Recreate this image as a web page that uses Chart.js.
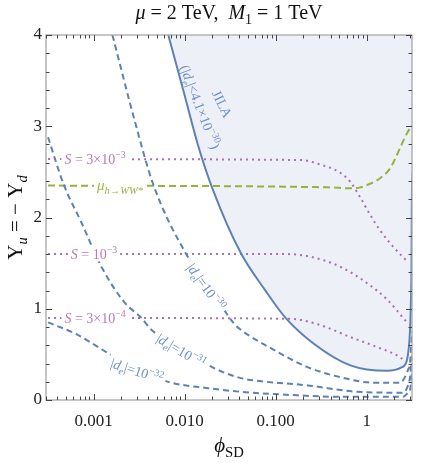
<!DOCTYPE html>
<html>
<head>
<meta charset="utf-8">
<script src="https://cdn.jsdelivr.net/npm/chart.js@4.4.1/dist/chart.umd.min.js"></script>
<style>
  html, body { margin: 0; padding: 0; background: #fff; }
  #wrap { width: 436px; height: 465px; }
</style>
</head>
<body>
<div id="wrap"><canvas id="c" width="436" height="465"></canvas></div>
<script>
// axis ticks
const xTickValues = [0.001, 0.01, 0.1, 1];
const xTickLabels = ['0.001', '0.010', '0.100', '1'];
const yTickValues = [0, 1, 2, 3, 4];

// JILA bound |d_e| < 4.1e-30 (solid, shaded above)
const jilaPhi = [0.00661, 0.00963, 0.01405, 0.0205, 0.0414, 0.0758, 0.1285, 0.260, 0.660, 1.68, 2.44, 2.77, 2.99, 3.06, 3.10, 3.1416, 3.1416];
const jilaY   = [4.0, 3.40, 2.79, 2.30, 1.61, 1.21, 0.90, 0.62, 0.38, 0.32, 0.36, 0.44, 0.77, 1.10, 1.40, 2.5, 4.2];

// |d_e| contours (dashed)
const de30Phi = [0.00161, 0.00281, 0.00453, 0.01038, 0.01807, 0.0347, 0.0414, 0.0951, 0.224, 0.513, 1.18, 2.32, 2.84, 2.99, 3.14];
const de30Y   = [4.0, 3.07, 2.36, 1.60, 1.26, 0.84, 0.77, 0.55, 0.36, 0.25, 0.19, 0.19, 0.33, 0.41, 0.75];
const de31Phi = [0.000316, 0.00047, 0.000739, 0.00122, 0.00218, 0.00335, 0.00431, 0.0091, 0.0210, 0.0414, 0.0635, 0.224, 0.787, 2.51, 2.84, 2.99, 3.14];
const de31Y   = [2.88, 2.36, 1.94, 1.46, 1.07, 0.90, 0.77, 0.56, 0.35, 0.24, 0.21, 0.16, 0.09, 0.08, 0.16, 0.25, 0.5];
const de32Phi = [0.000316, 0.00062, 0.00146, 0.0031, 0.00712, 0.01807, 0.0414, 0.146, 0.513, 1.81, 2.51, 2.84, 2.99, 3.14];
const de32Y   = [0.85, 0.73, 0.51, 0.32, 0.19, 0.13, 0.09, 0.055, 0.035, 0.035, 0.035, 0.08, 0.11, 0.3];

// S contours (dotted)
const s3e3Phi = [0.000316, 0.1876, 0.310, 0.513, 0.660, 0.849, 1.09, 1.40, 1.95, 2.84];
const s3e3Y   = [2.64, 2.63, 2.58, 2.49, 2.39, 2.22, 2.03, 1.86, 1.68, 1.51];
const s1e3Phi = [0.000316, 0.1223, 0.2414, 0.513, 1.01, 1.68, 2.51, 2.77];
const s1e3Y   = [1.60, 1.60, 1.57, 1.46, 1.28, 1.10, 0.90, 0.85];
const s3e4Phi = [0.000316, 0.146, 0.310, 0.660, 1.30, 2.32, 2.45];
const s3e4Y   = [0.90, 0.89, 0.82, 0.69, 0.58, 0.47, 0.45];

// mu_{h->WW*} (green dashed)
const muPhi = [0.000316, 0.399, 0.660, 0.849, 1.09, 1.40, 1.81, 2.32, 2.63, 2.99, 3.1416];
const muY   = [2.35, 2.33, 2.32, 2.33, 2.37, 2.43, 2.54, 2.76, 2.88, 2.98, 3.01];

const BLUE = '#5e81b5';
const BLUE_TXT = '#6e8fc6';
const PURPLE = '#ae6bb3';
const PURPLE_TXT = '#b67ab9';
const GREEN = '#94b33a';
const GREEN_TXT = '#9ab840';
const SERIF = '"Liberation Serif", "DejaVu Serif", serif';

function pts(xs, ys) { return xs.map((x, i) => ({ x: x, y: ys[i] })); }

function fontFor(p, size) {
  const s = (p.sup || p.sub) ? size * 0.7 : size;
  return (p.i ? 'italic ' : '') + s.toFixed(1) + 'px ' + SERIF;
}
function richWidth(ctx, parts, size) {
  let w = 0;
  for (const p of parts) { ctx.font = fontFor(p, size); w += ctx.measureText(p.t).width; }
  return w;
}
function drawRich(ctx, parts, x, y, size, color, align) {
  const w = richWidth(ctx, parts, size);
  let cx = align === 'center' ? x - w / 2 : x;
  ctx.fillStyle = color;
  ctx.textBaseline = 'alphabetic';
  ctx.textAlign = 'left';
  for (const p of parts) {
    ctx.font = fontFor(p, size);
    const dy = p.sup ? -size * 0.42 : (p.sub ? size * 0.25 : 0);
    ctx.fillText(p.t, cx, y + dy);
    cx += ctx.measureText(p.t).width;
  }
  return w;
}

const deParts = (exp) => [{ t: '|' }, { t: 'd', i: true }, { t: 'e', i: true, sub: true }, { t: '|=10' }, { t: exp, sup: true }];

const curveLabels = [
  { parts: deParts('\u221230'), x: 206, y: 287, rot: 54, size: 14, color: BLUE_TXT, box: true },
  { parts: deParts('\u221231'), x: 181, y: 351, rot: 31, size: 14, color: BLUE_TXT, box: true },
  { parts: deParts('\u221232'), x: 137, y: 371, rot: 18, size: 14, color: BLUE_TXT, box: true },
  { parts: [{ t: 'S', i: true }, { t: ' = 3\u00d710' }, { t: '\u22123', sup: true }], x: 95, y: 159, rot: 0, size: 14, color: PURPLE_TXT, box: true },
  { parts: [{ t: 'S', i: true }, { t: ' = 10' }, { t: '\u22123', sup: true }], x: 94, y: 254, rot: 0, size: 14, color: PURPLE_TXT, box: true },
  { parts: [{ t: 'S', i: true }, { t: ' = 3\u00d710' }, { t: '\u22124', sup: true }], x: 95, y: 318, rot: 0, size: 14, color: PURPLE_TXT, box: true },
  { parts: [{ t: '\u03bc', i: true }, { t: 'h\u2192WW*', i: true, sub: true }], x: 120, y: 185, rot: 0, size: 15, color: GREEN_TXT, box: true },
  { parts: [{ t: 'JILA' }], x: 222, y: 104, rot: 64, size: 14, color: BLUE_TXT, box: false },
  { parts: [{ t: '(|' }, { t: 'd', i: true }, { t: 'e', i: true, sub: true }, { t: '|<4.1\u00d710' }, { t: '\u221230', sup: true }, { t: ')' }], x: 200, y: 107, rot: 69, size: 14, color: BLUE_TXT, box: false }
];

const decor = {
  id: 'decor',
  afterDraw(chart) {
    const ctx = chart.ctx;
    const a = chart.chartArea;
    const xs = chart.scales.x, ys = chart.scales.y;
    ctx.save();
    // labels on curves
    for (const L of curveLabels) {
      const w = richWidth(ctx, L.parts, L.size);
      ctx.save();
      ctx.translate(L.x, L.y);
      ctx.rotate(L.rot * Math.PI / 180);
      if (L.box) {
        ctx.fillStyle = '#ffffff';
        ctx.fillRect(-w / 2 - 3, -L.size * 0.62, w + 6, L.size * 1.15);
      }
      drawRich(ctx, L.parts, 0, L.size * 0.33, L.size, L.color, 'center');
      ctx.restore();
    }
    // frame
    ctx.strokeStyle = '#a8a8a8';
    ctx.lineWidth = 1.3;
    ctx.strokeRect(a.left, a.top, a.right - a.left, a.bottom - a.top);
    // ticks
    ctx.strokeStyle = '#444';
    ctx.lineWidth = 1;
    ctx.beginPath();
    const xmin = xs.min, xmax = xs.max;
    for (let n = -4; n <= 0; n++) {
      for (let k = 1; k <= 9; k++) {
        const v = k * Math.pow(10, n);
        if (v < xmin || v > xmax) continue;
        const px = Math.round(xs.getPixelForValue(v)) + 0.5;
        const len = k === 1 ? 6 : 3.5;
        ctx.moveTo(px, a.bottom); ctx.lineTo(px, a.bottom - len);
        ctx.moveTo(px, a.top); ctx.lineTo(px, a.top + len);
      }
    }
    for (let j = 0; j <= 20; j++) {
      const v = j * 0.2;
      const py = Math.round(ys.getPixelForValue(v)) + 0.5;
      const len = j % 5 === 0 ? 6 : 3.5;
      ctx.moveTo(a.left, py); ctx.lineTo(a.left + len, py);
      ctx.moveTo(a.right, py); ctx.lineTo(a.right - len, py);
    }
    ctx.stroke();
    // title
    drawRich(ctx, [{ t: '\u03bc', i: true }, { t: ' = 2 TeV,  ' }, { t: 'M', i: true }, { t: '1', sub: true }, { t: ' = 1 TeV' }],
      (a.left + a.right) / 2, 19, 20, '#111', 'center');
    // x axis title
    drawRich(ctx, [{ t: '\u03d5', i: true }, { t: 'SD', sub: true }], (a.left + a.right) / 2, 452, 21, '#111', 'center');
    // y axis title
    ctx.save();
    ctx.translate(22, (a.top + a.bottom) / 2);
    ctx.rotate(-Math.PI / 2);
    drawRich(ctx, [{ t: 'Y' }, { t: 'u', i: true, sub: true }, { t: ' = \u2212 ' }, { t: 'Y' }, { t: 'd', i: true, sub: true }], 0, 0, 21, '#111', 'center');
    ctx.restore();
    ctx.restore();
  }
};

const line = (data, color, dash, extra) => Object.assign({
  data: data, borderColor: color, borderWidth: 2, borderDash: dash,
  pointRadius: 0, fill: false, cubicInterpolationMode: 'monotone', borderCapStyle: 'butt'
}, extra || {});

new Chart(document.getElementById('c'), {
  type: 'line',
  data: {
    datasets: [
      line(pts(jilaPhi, jilaY), BLUE, [], { fill: 'end', backgroundColor: 'rgba(94,129,181,0.11)', borderWidth: 2 }),
      line(pts(de30Phi, de30Y), BLUE, [6, 4]),
      line(pts(de31Phi, de31Y), BLUE, [6, 4]),
      line(pts(de32Phi, de32Y), BLUE, [6, 4]),
      line(pts(s3e3Phi, s3e3Y), PURPLE, [2, 4]),
      line(pts(s1e3Phi, s1e3Y), PURPLE, [2, 4]),
      line(pts(s3e4Phi, s3e4Y), PURPLE, [2, 4]),
      line(pts(muPhi, muY), GREEN, [7, 4])
    ]
  },
  options: {
    responsive: false,
    animation: false,
    layout: { padding: { left: 0, right: 24, top: 35, bottom: 0 } },
    plugins: {
      legend: { display: false },
      tooltip: { enabled: false },
      filler: { drawTime: 'beforeDatasetsDraw' }
    },
    scales: {
      x: {
        type: 'logarithmic',
        min: Math.pow(10, -3.5),
        max: Math.PI,
        grid: { display: false, drawTicks: false },
        border: { display: false },
        afterBuildTicks: s => { s.ticks = xTickValues.map(v => ({ value: v })); },
        afterFit: s => { s.height = 65; },
        ticks: {
          autoSkip: false, maxRotation: 0, padding: 11, color: '#222',
          font: { family: SERIF, size: 17 },
          callback: (v, i) => xTickLabels[i]
        }
      },
      y: {
        type: 'linear',
        min: 0, max: 4,
        grid: { display: false, drawTicks: false },
        border: { display: false },
        afterBuildTicks: s => { s.ticks = yTickValues.map(v => ({ value: v })); },
        afterFit: s => { s.width = 46; },
        ticks: { padding: 4, color: '#222', font: { family: SERIF, size: 17 } }
      }
    }
  },
  plugins: [decor]
});
</script>
</body>
</html>
